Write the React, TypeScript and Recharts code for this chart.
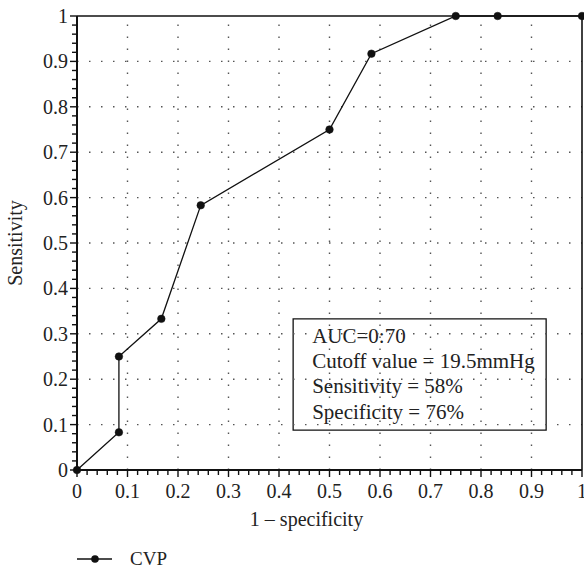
import { Legend, Line, LineChart, ReferenceArea, ReferenceLine, XAxis, YAxis } from "recharts";

// ROC curve points
const fpr = [0, 0.083, 0.083, 0.167, 0.245, 0.5, 0.583, 0.75, 0.833, 1];
const tpr = [0, 0.083, 0.25, 0.333, 0.583, 0.75, 0.917, 1, 1, 1];

const majorTicks = [0, 0.1, 0.2, 0.3, 0.4, 0.5, 0.6, 0.7, 0.8, 0.9, 1];
const gridTicks = [0.1, 0.2, 0.3, 0.4, 0.5, 0.6, 0.7, 0.8, 0.9];
const MINOR_PER_MAJOR = 5;

const boxLines = ["AUC=0:70", "Cutoff value = 19.5mmHg", "Sensitivity = 58%", "Specificity = 76%"];
const boxX = [0.428, 0.929];
const boxY = [0.088, 0.333];

const data = fpr.map((x, i) => ({ x, y: tpr[i] }));

// minor tick every 0.02
const allTicks: number[] = [];
for (let i = 0; i < majorTicks.length - 1; i++) {
  for (let j = 0; j < MINOR_PER_MAJOR; j++) {
    allTicks.push(+(majorTicks[i] + (j * (majorTicks[i + 1] - majorTicks[i])) / MINOR_PER_MAJOR).toFixed(3));
  }
}
allTicks.push(1);

const INK = "#111";
const TEXT = "#222";
const FONT = "'Liberation Serif', 'DejaVu Serif', serif";

const isMajor = (v: number) => majorTicks.some((m) => Math.abs(m - v) < 1e-6);
const fmt = (v: number) => (v === 0 ? "0" : v === 1 ? "1" : v.toFixed(1));

function XTick(props: any) {
  const { x, y, payload } = props;
  const major = isMajor(payload.value);
  return (
    <g>
      <line x1={x} x2={x} y1={y} y2={y + (major ? 7 : 5)} stroke={INK} strokeWidth={1.4} />
      {major && (
        <text x={x} y={y + 28} textAnchor="middle" fontSize={20} fill={TEXT}>
          {fmt(payload.value)}
        </text>
      )}
    </g>
  );
}

function YTick(props: any) {
  const { x, y, payload } = props;
  const major = isMajor(payload.value);
  return (
    <g>
      <line x1={x - (major ? 7 : 5)} x2={x} y1={y} y2={y} stroke={INK} strokeWidth={1.4} />
      {major && (
        <text x={x - 9} y={y} dy="0.35em" textAnchor="end" fontSize={20} fill={TEXT}>
          {fmt(payload.value)}
        </text>
      )}
    </g>
  );
}

function BoxText(props: any) {
  const vb = props.viewBox;
  if (!vb) return null;
  return (
    <g>
      {boxLines.map((t, i) => (
        <text key={t} x={vb.x + 19} y={vb.y + 24 + i * 25.3} fontSize={21} fill={TEXT}>
          {t}
        </text>
      ))}
    </g>
  );
}

function LegendContent() {
  return (
    <svg width={120} height={30}>
      <line x1={7} x2={42} y1={14} y2={14} stroke={INK} strokeWidth={1.3} />
      <circle cx={25} cy={14} r={3.8} fill={INK} />
      <text x={60} y={20} fontSize={19} fill={TEXT} fontFamily={FONT}>
        CVP
      </text>
    </svg>
  );
}

export default function App() {
  return (
    <div style={{ position: "absolute", left: 0, top: 0, background: "#fff" }}>
      <LineChart
        width={584}
        height={572}
        data={data}
        margin={{ top: 16, right: 2, left: 0, bottom: 42 }}
        style={{ fontFamily: FONT }}
      >
        <XAxis
          dataKey="x"
          type="number"
          domain={[0, 1]}
          ticks={allTicks}
          interval={0}
          tickSize={0}
          tickMargin={0}
          tickLine={false}
          tick={<XTick />}
          axisLine={{ stroke: INK, strokeWidth: 2 }}
          height={60}
          label={{
            content: (p: any) => (
              <text
                x={p.viewBox.x + p.viewBox.width / 2 - 23}
                y={p.viewBox.y + 56}
                textAnchor="middle"
                fontSize={20}
                fill={TEXT}
              >
                1 – specificity
              </text>
            ),
          }}
        />
        <YAxis
          type="number"
          domain={[0, 1]}
          ticks={allTicks}
          interval={0}
          tickSize={0}
          tickMargin={0}
          tickLine={false}
          tick={<YTick />}
          axisLine={{ stroke: INK, strokeWidth: 2 }}
          width={77}
          label={{
            content: (p: any) => {
              const cx = p.viewBox.x + 22;
              const cy = p.viewBox.y + p.viewBox.height / 2;
              return (
                <text x={cx} y={cy} textAnchor="middle" fontSize={20} fill={TEXT} transform={`rotate(-90 ${cx} ${cy})`}>
                  Sensitivity
                </text>
              );
            },
          }}
        />
        {gridTicks.map((v) => (
          <ReferenceLine key={"gx" + v} x={v} stroke="#555" strokeWidth={1.4} strokeDasharray="1.5 10.5" />
        ))}
        {gridTicks.map((v) => (
          <ReferenceLine key={"gy" + v} y={v} stroke="#555" strokeWidth={1.4} strokeDasharray="1.5 10.5" />
        ))}
        <ReferenceLine y={1} stroke={INK} strokeWidth={1.6} />
        <ReferenceLine x={1} stroke={INK} strokeWidth={1.6} />
        <ReferenceArea
          x1={boxX[0]}
          x2={boxX[1]}
          y1={boxY[0]}
          y2={boxY[1]}
          fill="none"
          fillOpacity={0}
          stroke={INK}
          strokeWidth={1.3}
          label={(p: any) => <BoxText viewBox={p.viewBox} />}
        />
        <Line
          dataKey="y"
          type="linear"
          stroke={INK}
          strokeWidth={1.3}
          dot={{ r: 3.8, fill: INK, stroke: INK, strokeWidth: 0.5 }}
          isAnimationActive={false}
        />
        <Legend
          layout="vertical"
          align="center"
          verticalAlign="middle"
          content={<LegendContent />}
          wrapperStyle={{ left: 70, top: 545, width: 120, height: 30 }}
        />
      </LineChart>
    </div>
  );
}
